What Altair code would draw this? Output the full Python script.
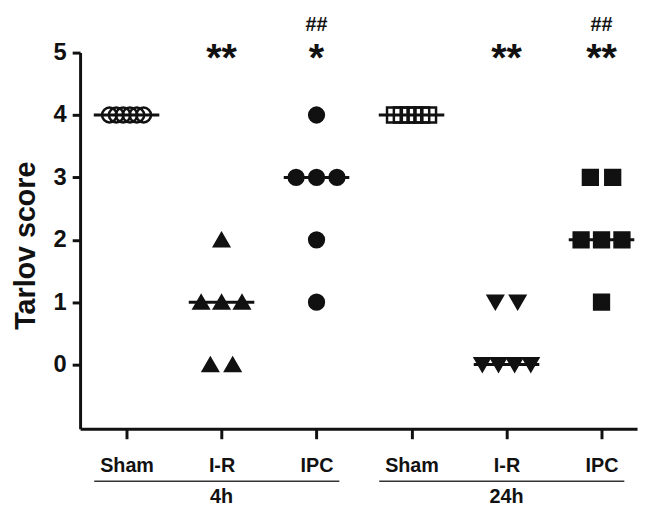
import altair as alt
import pandas as pd

# ---- data ----
group_names = ["Sham", "I-R", "IPC", "Sham", "I-R", "IPC"]
time_names = ["4h", "24h"]
scores = [
    [4, 4, 4, 4, 4, 4],
    [2, 1, 1, 1, 0, 0],
    [4, 3, 3, 3, 2, 1],
    [4, 4, 4, 4, 4, 4],
    [1, 1, 0, 0, 0, 0],
    [3, 3, 2, 2, 2, 1],
]
medians = [4, 1, 3, 4, 0, 2]
ann_group = [2, 3, 3, 5, 6, 6]
ann_text = ["**", "*", "##", "**", "**", "##"]
ann_level = ["star", "star", "hash", "star", "star", "hash"]

# ---- layout constants ----
spread = {1: 0.0, 2: 0.235, 3: 0.215, 4: 0.17, 6: 0.072}
shapes = ["circle", "triangle-up", "circle", "square", "triangle-down", "square"]
fills = ["transparent", "#111", "#111", "transparent", "#111", "#111"]
FONT = "Liberation Sans"

rows = []
for gi, vals in enumerate(scores):
    pos = gi + 1
    for v in sorted(set(vals), reverse=True):
        k = vals.count(v)
        for j in range(k):
            rows.append({"gid": str(pos), "x": pos + (j - (k - 1) / 2) * spread[k], "y": v})
pts = pd.DataFrame(rows)

med = pd.DataFrame({"x": [i + 1 - 0.345 for i in range(6)],
                    "x2": [i + 1 + 0.345 for i in range(6)],
                    "y": medians})

ann = pd.DataFrame({"x": ann_group, "t": ann_text, "lvl": ann_level})
spans = pd.DataFrame({"t": time_names,
                      "c": [2, 5]})
spans["x"] = spans["c"] - 1.34
spans["x2"] = spans["c"] + 1.24

xs = alt.Scale(domain=[0.511, 6.374], nice=False, zero=False)
ys = alt.Scale(domain=[-1.03, 5], nice=False, zero=False)

label_js = "['" + "','".join(group_names) + "']"

base_x = alt.X("x:Q", scale=xs,
               axis=alt.Axis(values=[1, 2, 3, 4, 5, 6], title=None, grid=False,
                             labelExpr=f"{label_js}[datum.value-1]",
                             labelFont=FONT, labelFontSize=20, labelFontWeight="bold",
                             labelColor="#111", labelPadding=17, tickSize=10,
                             labelFlush=False, labelOverlap=False))

rules = alt.Chart(med).mark_rule(color="#111", strokeWidth=3).encode(
    x=base_x,
    x2="x2:Q",
    y=alt.Y("y:Q", scale=ys,
            axis=alt.Axis(values=[0, 1, 2, 3, 4, 5], format="d", title="Tarlov score", grid=False,
                          labelFont=FONT, labelFontSize=24, labelFontWeight="bold",
                          labelColor="#111", labelPadding=6, tickSize=8,
                          titleFont=FONT, titleFontSize=29, titleFontWeight="bold",
                          titleColor="#111", titleX=-55, titleY=195, titleAngle=270,
                          titleAlign="center", titleBaseline="middle")),
)

points = alt.Chart(pts).mark_point(opacity=1, stroke="#111", strokeWidth=2.5, size=225).encode(
    x="x:Q",
    y="y:Q",
    shape=alt.Shape("gid:N", scale=alt.Scale(domain=[str(i) for i in range(1, 7)], range=shapes), legend=None),
    fill=alt.Fill("gid:N", scale=alt.Scale(domain=[str(i) for i in range(1, 7)], range=fills), legend=None),
)

stars = alt.Chart(ann[ann.lvl == "star"]).mark_text(
    font=FONT, fontSize=40, fontWeight="bold", color="#111", baseline="alphabetic"
).encode(x="x:Q", y=alt.value(19), text="t:N")

hashes = alt.Chart(ann[ann.lvl == "hash"]).mark_text(
    font=FONT, fontSize=20, fontWeight="bold", color="#111", baseline="alphabetic"
).encode(x="x:Q", y=alt.value(-22), text="t:N")

underline = alt.Chart(spans).mark_rule(color="#333", strokeWidth=1.5).encode(
    x="x:Q", x2="x2:Q", y=alt.value(434)
)

time_lbl = alt.Chart(spans).mark_text(
    font=FONT, fontSize=20, fontWeight="bold", color="#111", baseline="middle"
).encode(x="c:Q", y=alt.value(450), text="t:N")

chart = alt.layer(rules, points, stars, hashes, underline, time_lbl).properties(
    width=564, height=381,
    autosize=alt.AutoSizeParams(type="none"),
    padding={"left": 73, "top": 42, "right": 4, "bottom": 80},
).configure_view(stroke=None).configure_axis(
    domainColor="#111", domainWidth=3, tickColor="#111", tickWidth=3
)

chart.save("out.html", embed_options={"renderer": "svg", "actions": False})
